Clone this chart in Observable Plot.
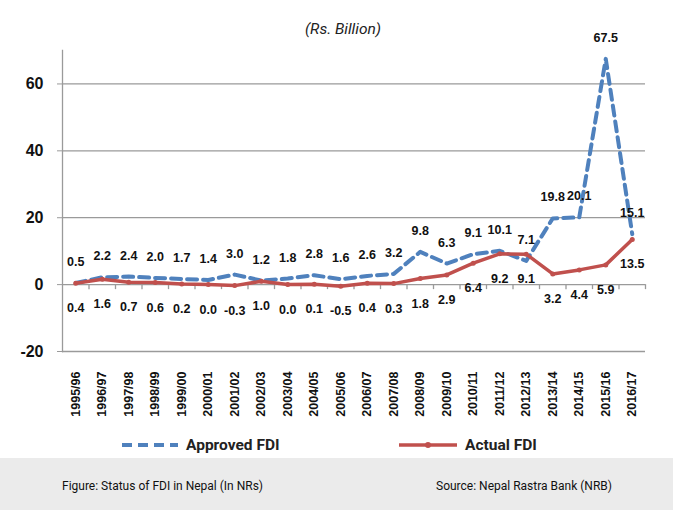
<!DOCTYPE html>
<html>
<head>
<meta charset="utf-8">
<script src="https://cdn.jsdelivr.net/npm/d3@7"></script>
<script src="https://cdn.jsdelivr.net/npm/@observablehq/plot@0.6"></script>
<style>
  html, body { margin: 0; padding: 0; background: #fff; }
  #wrap { position: relative; width: 673px; height: 510px; overflow: hidden; font-family: "Liberation Sans", Arial, sans-serif; }
  #title { position: absolute; left: 0; width: 686px; top: 20px; text-align: center; font-family: Roboto, sans-serif; font-style: italic; font-size: 15.5px; color: #222; }
  #legend { position: absolute; top: 430px; left: 0; width: 673px; height: 30px; font-family: Roboto, sans-serif; font-weight: bold; font-size: 15.5px; color: #222; }
  .leg { position: absolute; top: 0; display: flex; align-items: center; height: 30px; }
  .leg svg { margin-right: 8px; }
  #caption { position: absolute; left: 0; top: 458px; width: 673px; height: 52px; background: #ebebeb; font-family: Roboto, sans-serif; font-size: 12px; color: #111; }
  #caption span { position: absolute; top: 21px; }
</style>
</head>
<body>
<div id="wrap">
  <div id="chart"></div>
  <div id="title">(Rs. Billion)</div>
  <div id="legend"></div>
  <div id="caption"></div>
</div>
<script>
const years = ["1995/96","1996/97","1997/98","1998/99","1999/00","2000/01","2001/02","2002/03","2003/04","2004/05","2005/06","2006/07","2007/08","2008/09","2009/10","2010/11","2011/12","2012/13","2013/14","2014/15","2015/16","2016/17"];
const approvedFDI = [0.5, 2.2, 2.4, 2.0, 1.7, 1.4, 3.0, 1.2, 1.8, 2.8, 1.6, 2.6, 3.2, 9.8, 6.3, 9.1, 10.1, 7.1, 19.8, 20.1, 67.5, 15.1];
const actualFDI = [0.4, 1.6, 0.7, 0.6, 0.2, 0.0, -0.3, 1.0, 0.0, 0.1, -0.5, 0.4, 0.3, 1.8, 2.9, 6.4, 9.2, 9.1, 3.2, 4.4, 5.9, 13.5];
const yTicks = [-20, 0, 20, 40, 60];
const seriesNames = ["Approved FDI", "Actual FDI"];
const captionLeft = "Figure: Status of FDI in Nepal (In NRs)";
const captionRight = "Source: Nepal Rastra Bank (NRB)";

const blue = "#4F81BD", red = "#C0504D", grid = "#9a9a9a";
const idx = years.map((_, i) => i);
const bounds = idx.map(i => i + 0.5);

const chart = Plot.plot({
  width: 673,
  height: 458,
  marginLeft: 62,
  marginRight: 28,
  marginTop: 50,
  marginBottom: 107,
  x: { domain: [-0.5, years.length - 0.5] },
  y: { domain: [-20, 70] },
  style: { fontFamily: "'Liberation Sans', Arial, sans-serif", color: "#111", background: "transparent" },
  marks: [
    Plot.ruleY(yTicks.filter(v => v !== 0), { stroke: grid, strokeWidth: 1.3 }),
    Plot.frame({ anchor: "left", stroke: grid, strokeWidth: 1.3 }),
    Plot.ruleY([0], { stroke: grid, strokeWidth: 1.3 }),
    Plot.ruleX(bounds, { x: d => d, y1: 0, y2: -1.5, stroke: grid, strokeWidth: 1.3 }),
    Plot.axisY({ ticks: yTicks, tickFormat: d => String(d), tickSize: 5, tickPadding: 14, fontSize: 16, fontWeight: "bold", stroke: grid, label: null }),
    Plot.axisX({ ticks: idx, tickFormat: i => years[i], tickRotate: -90, tickSize: 0, tickPadding: 20, fontSize: 12.5, fontWeight: "bold", label: null }),
    Plot.line(idx, { x: i => i, y: i => approvedFDI[i], stroke: blue, strokeWidth: 4, strokeDasharray: "10,6" }),
    Plot.line(idx, { x: i => i, y: i => actualFDI[i], stroke: red, strokeWidth: 3.5 }),
    Plot.dot(idx, { x: i => i, y: i => actualFDI[i], fill: red, r: 2.5 }),
    Plot.text(idx, { x: i => i, y: i => approvedFDI[i], text: i => approvedFDI[i].toFixed(1), dy: -21, fontSize: 12.5, fontWeight: "bold", fill: "#111" }),
    Plot.text(idx, { x: i => i, y: i => actualFDI[i], text: i => actualFDI[i].toFixed(1), dy: 25, fontSize: 12.5, fontWeight: "bold", fill: "#111" })
  ]
});
document.getElementById("chart").appendChild(chart);

const legend = document.getElementById("legend");
legend.innerHTML = `
  <div class="leg" style="left:122px"><svg width="56" height="10"><line x1="0" y1="5" x2="56" y2="5" stroke="${blue}" stroke-width="4" stroke-dasharray="10,6"/></svg>${seriesNames[0]}</div>
  <div class="leg" style="left:399px"><svg width="58" height="10"><line x1="0" y1="5" x2="58" y2="5" stroke="${red}" stroke-width="3.5"/><circle cx="29" cy="5" r="3" fill="${red}"/></svg>${seriesNames[1]}</div>`;

document.getElementById("caption").innerHTML = `<span style="left:62px">${captionLeft}</span><span style="left:436px">${captionRight}</span>`;
</script>
</body>
</html>
